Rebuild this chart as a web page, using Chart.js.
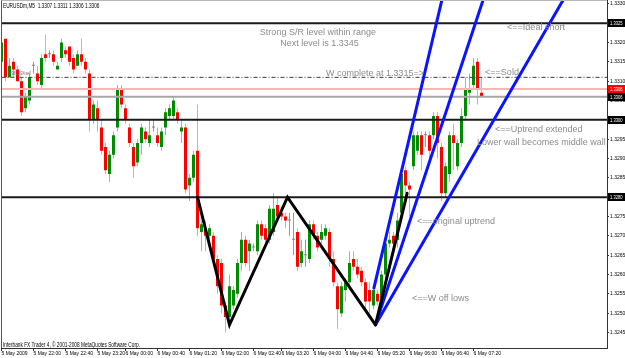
<!DOCTYPE html>
<html>
<head>
<meta charset="utf-8">
<script src="https://cdn.jsdelivr.net/npm/chart.js@4.4.0/dist/chart.umd.min.js"></script>
<style>
  html, body { margin: 0; padding: 0; background: #fff; }
  #wrap { width: 625px; height: 358px; }
</style>
</head>
<body>
<div id="wrap"><canvas id="myChart" width="625" height="358"></canvas></div>
<script>
// EURUSDm M5 bars, 5 May 2009 21:20 -> 6 May 07:20 (index = bar number)
var opens = [1.3315,1.3321,1.3311,1.3315,1.3313,1.3310,1.3303,1.3305,1.3314,1.3312,
  1.3309,1.3317,1.3317,1.3317,1.3313,1.3316,1.3318,1.3319,1.3316,1.3314,
  1.3317,1.3315,1.3312,1.3300,1.3303,1.3298,1.3293,1.3286,1.3291,1.3298,
  1.3308,1.3303,1.3298,1.3293,1.3289,1.3294,1.3297,1.3294,1.3298,1.3296,
  1.3293,1.3298,1.3301,1.3301,1.3302,1.3297,1.3298,1.3283,1.3285,1.3292,
  1.3271,1.3272,1.3270,1.3270,1.3264,1.3263,1.3252,1.3249,1.3252,1.3255,
  1.3263,1.3269,1.3266,1.3267,1.3266,1.3273,1.3272,1.3269,1.3271,1.3278,
  1.3276,1.3275,1.3274,1.3269,1.3271,1.3263,1.3265,1.3264,1.3273,1.3270,
  1.3269,1.3270,1.3271,1.3264,1.3257,1.3250,1.3256,1.3258,1.3264,1.3262,
  1.3261,1.3258,1.3256,1.3252,1.3255,1.3254,1.3260,1.3268,1.3270,1.3269,
  1.3276,1.3287,1.3283,1.3288,1.3292,1.3296,1.3296,1.3296,1.3296,1.3301,
  1.3293,1.3281,1.3286,1.3296,1.3288,1.3294,1.3301,1.3307,1.3309,1.3315,
  1.3307];
var highs = [1.3324,1.3321,1.3316,1.3316,1.3314,1.3311,1.3307,1.3312,1.3315,1.3314,
  1.3317,1.3322,1.3318,1.3318,1.3315,1.3321,1.3319,1.3319,1.3317,1.3318,
  1.3321,1.3316,1.3313,1.3305,1.3305,1.3300,1.3294,1.3292,1.3297,1.3309,
  1.3309,1.3304,1.3299,1.3294,1.3295,1.3299,1.3298,1.3300,1.3300,1.3298,
  1.3298,1.3303,1.3304,1.3306,1.3303,1.3300,1.3299,1.3286,1.3292,1.3304,
  1.3274,1.3274,1.3273,1.3271,1.3265,1.3264,1.3253,1.3260,1.3257,1.3264,
  1.3271,1.3270,1.3269,1.3268,1.3274,1.3274,1.3273,1.3278,1.3281,1.3280,
  1.3277,1.3276,1.3276,1.3276,1.3272,1.3269,1.3269,1.3274,1.3274,1.3271,
  1.3273,1.3273,1.3272,1.3266,1.3258,1.3258,1.3259,1.3266,1.3266,1.3264,
  1.3262,1.3259,1.3258,1.3257,1.3256,1.3261,1.3269,1.3271,1.3271,1.3276,
  1.3287,1.3288,1.3284,1.3297,1.3297,1.3297,1.3297,1.3297,1.3302,1.3302,
  1.3294,1.3289,1.3297,1.3299,1.3295,1.3303,1.3311,1.3312,1.3316,1.3316,
  1.3311];
var lows = [1.3315,1.3310,1.3311,1.3311,1.3310,1.3301,1.3302,1.3304,1.3312,1.3309,
  1.3308,1.3315,1.3316,1.3314,1.3313,1.3315,1.3316,1.3314,1.3312,1.3314,
  1.3314,1.3312,1.3297,1.3299,1.3297,1.3291,1.3286,1.3284,1.3290,1.3297,
  1.3303,1.3299,1.3293,1.3285,1.3288,1.3291,1.3294,1.3293,1.3297,1.3293,
  1.3292,1.3296,1.3300,1.3300,1.3299,1.3294,1.3281,1.3279,1.3284,1.3270,
  1.3266,1.3266,1.3269,1.3263,1.3255,1.3250,1.3245,1.3246,1.3251,1.3254,
  1.3261,1.3262,1.3261,1.3266,1.3265,1.3269,1.3268,1.3268,1.3270,1.3274,
  1.3274,1.3272,1.3270,1.3265,1.3261,1.3262,1.3262,1.3263,1.3269,1.3266,
  1.3268,1.3269,1.3262,1.3257,1.3246,1.3249,1.3253,1.3257,1.3261,1.3259,
  1.3257,1.3251,1.3250,1.3251,1.3252,1.3253,1.3259,1.3267,1.3267,1.3267,
  1.3275,1.3281,1.3275,1.3287,1.3291,1.3287,1.3293,1.3290,1.3295,1.3290,
  1.3279,1.3280,1.3284,1.3287,1.3287,1.3293,1.3300,1.3304,1.3308,1.3304,
  1.3306];
var closes = [1.3320,1.3311,1.3314,1.3313,1.3310,1.3302,1.3306,1.3311,1.3314,1.3310,
  1.3316,1.3316,1.3317,1.3315,1.3314,1.3320,1.3317,1.3315,1.3313,1.3317,
  1.3315,1.3313,1.3300,1.3304,1.3300,1.3292,1.3287,1.3291,1.3296,1.3308,
  1.3304,1.3300,1.3294,1.3288,1.3294,1.3298,1.3295,1.3296,1.3298,1.3294,
  1.3297,1.3302,1.3303,1.3305,1.3300,1.3298,1.3282,1.3285,1.3291,1.3272,
  1.3273,1.3270,1.3272,1.3264,1.3257,1.3252,1.3249,1.3257,1.3256,1.3263,
  1.3269,1.3263,1.3268,1.3267,1.3273,1.3270,1.3269,1.3277,1.3277,1.3275,
  1.3275,1.3274,1.3274,1.3269,1.3262,1.3266,1.3265,1.3273,1.3270,1.3267,
  1.3271,1.3272,1.3264,1.3258,1.3251,1.3257,1.3258,1.3263,1.3262,1.3260,
  1.3258,1.3253,1.3253,1.3256,1.3253,1.3260,1.3268,1.3269,1.3268,1.3274,
  1.3286,1.3283,1.3282,1.3296,1.3296,1.3291,1.3296,1.3292,1.3301,1.3294,
  1.3281,1.3288,1.3296,1.3294,1.3294,1.3301,1.3308,1.3308,1.3314,1.3308,
  1.3306];

// time axis labels and the bars they sit on
var timeLabels = ["5 May 2009","5 May 22:00","5 May 22:40","5 May 23:20","6 May 00:00","6 May 00:40",
  "6 May 01:20","6 May 02:00","6 May 02:40","6 May 03:20","6 May 04:00","6 May 04:40",
  "6 May 05:20","6 May 06:00","6 May 06:40","6 May 07:20"];
var timeBars = [0, 8, 16, 24, 31, 39, 47, 55, 63, 70, 78, 86, 94, 102, 110, 118];
var priceTicks = [1.3245,1.3250,1.3255,1.3260,1.3265,1.3270,1.3275,1.3280,1.3285,
  1.3290,1.3295,1.3300,1.3305,1.3310,1.3315,1.3320,1.3325,1.3330];

// drawn objects: support/resistance levels, order, bid/ask
var srLevels = [1.3325, 1.3300, 1.3280];
var orderLevel = 1.3311;
var askLevel = 1.3308;
var bidLevel = 1.3306;

// W pattern (bar, price)
var wBars = [49, 57, 71.5, 93.5];
var wPrices = [1.3280, 1.3247, 1.3280, 1.3247];
// original uptrend
var upBars = [93.5, 101.4];
var upPrices = [1.3247, 1.3281];
// blue channel lines: start and end anchors
var chanStartBars = [93.1, 93.5, 93.5];
var chanStartPrices = [1.32565, 1.3247, 1.3247];
var chanEndBars = [111.24, 122.0, 143.2];
var chanEndPrices = [1.3336, 1.3336, 1.3336];

var notes = [
  {text: 'Strong S/R level within range', x: 79.1, y: 1.33227, align: 'center'},
  {text: 'Next level is 1.3345', x: 79.5, y: 1.33197, align: 'center'},
  {text: 'W complete at 1.3315=>', x: 81.1, y: 1.33120, align: 'left'},
  {text: '<==Ideal short', x: 126.4, y: 1.33240, align: 'left'},
  {text: '<==Sold', x: 120.9, y: 1.33122, align: 'left'},
  {text: '<==Uptrend extended', x: 123.4, y: 1.32976, align: 'left'},
  {text: 'Lower wall becomes middle wall', x: 118.9, y: 1.32942, align: 'left'},
  {text: '<==original uptrend', x: 103.9, y: 1.32738, align: 'left'},
  {text: '<==W off lows', x: 102.6, y: 1.32539, align: 'left'}
];
var header = 'EURUSDm,M5  1.3307 1.3311 1.3306 1.3306';
var footer = 'Interbank FX Trader 4, \u00a9 2001-2008 MetaQuotes Software Corp.';
var orderLabel = '#9801024 sell';

var xMax = 151.375;
var yMin = 1.32410, yMax = 1.33310;

var bull = '#008a00', bear = '#ff0000', doji = '#808080';
var bodyColors = opens.map(function (o, i) {
  return closes[i] > o ? bull : (closes[i] < o ? bear : doji);
});
var wickColors = opens.map(function (o, i) {
  return closes[i] > o ? '#86c886' : (closes[i] < o ? '#ff9a9a' : '#999999');
});

function hline(v, color, width, dash) {
  return {
    type: 'line', data: [{x: 0, y: v}, {x: xMax, y: v}],
    borderColor: color, borderWidth: width, borderDash: dash || [],
    pointRadius: 0, fill: false, order: 1
  };
}
function seg(xsArr, ysArr, color, width) {
  return {
    type: 'line', data: xsArr.map(function (x, i) { return {x: x, y: ysArr[i]}; }),
    borderColor: color, borderWidth: width, pointRadius: 0, fill: false,
    tension: 0, order: 0, borderCapStyle: 'round', borderJoinStyle: 'miter'
  };
}

var datasets = [
  {
    label: 'wicks',
    data: highs.map(function (h, i) { return {x: i, y: [lows[i], h]}; }),
    backgroundColor: wickColors, barThickness: 1, grouped: false,
    borderWidth: 0, inflateAmount: 0, order: 3
  },
  {
    label: 'bodies',
    data: opens.map(function (o, i) { return {x: i, y: [o, closes[i]]}; }),
    backgroundColor: bodyColors, barThickness: 3, grouped: false, minBarLength: 1,
    borderWidth: 0, inflateAmount: 0, order: 2
  },
  hline(askLevel, '#ffb4b4', 2),
  hline(bidLevel, '#a6a6a6', 2),
  hline(orderLevel, '#3a3a3a', 1, [4, 2, 1, 2])
];
srLevels.forEach(function (v) { datasets.push(hline(v, '#1a1a1a', 2)); });
datasets.push(seg(wBars, wPrices, '#000000', 3));
datasets.push(seg(upBars, upPrices, '#000000', 3));
chanStartBars.forEach(function (b, k) {
  datasets.push(seg([b, chanEndBars[k]], [chanStartPrices[k], chanEndPrices[k]], '#0a14ff', 3));
});

var priceTags = [
  {value: 1.3325, bg: '#000000'},
  {value: askLevel, bg: '#ff0000'},
  {value: bidLevel, bg: '#000000'},
  {value: 1.3300, bg: '#000000'},
  {value: 1.3280, bg: '#000000'}
];

var overlay = {
  id: 'overlay',
  afterDraw: function (chart) {
    var c = chart.ctx, a = chart.chartArea, xs = chart.scales.x, ys = chart.scales.y;
    c.save();
    // frame left and top
    c.fillStyle = '#555';
    c.fillRect(1, a.top, 1, a.bottom - a.top);
    c.fillStyle = '#b8b8b8';
    c.fillRect(a.left, 0, a.right - a.left, 1);

    c.font = '9px "Liberation Sans", Arial, sans-serif';
    c.fillStyle = '#8c8c8c';
    c.textBaseline = 'middle';
    notes.forEach(function (n) {
      c.textAlign = n.align;
      c.fillText(n.text, xs.getPixelForValue(n.x), ys.getPixelForValue(n.y));
    });

    function small(txt, x, y, size, color) {
      c.save();
      c.translate(x, y);
      c.scale(0.68, 1);
      c.font = size + 'px "Liberation Sans", Arial, sans-serif';
      c.fillStyle = color;
      c.textAlign = 'left';
      c.textBaseline = 'middle';
      c.fillText(txt, 0, 0);
      c.restore();
    }
    small(header, 3, 6, 7, '#000');
    small(footer, 3, 345, 7, '#000');
    small(orderLabel, xs.getPixelForValue(2), ys.getPixelForValue(orderLevel) - 4, 5, '#666');

    priceTags.forEach(function (t) {
      var py = Math.round(ys.getPixelForValue(t.value));
      c.fillStyle = t.bg;
      c.fillRect(a.right + 1, py - 4, chart.width - a.right - 1, 8);
      small(t.value.toFixed(4), a.right + 3, py, 6, '#fff');
    });
    c.restore();
  }
};

var ctx = document.getElementById('myChart');
var myChart = new Chart(ctx, {
  type: 'bar',
  data: { datasets: datasets },
  options: {
    responsive: false,
    animation: false,
    devicePixelRatio: 1,
    layout: { autoPadding: false, padding: { left: 1.5, top: 0, right: 0, bottom: 0 } },
    plugins: { legend: { display: false }, tooltip: { enabled: false }, title: { display: false } },
    scales: {
      x: {
        type: 'linear', min: 0, max: xMax, offset: false,
        grid: { offset: false, drawOnChartArea: false, drawTicks: true, tickLength: 3, color: '#333' },
        border: { color: '#333', width: 1 },
        afterBuildTicks: function (s) { s.ticks = timeBars.map(function (v) { return {value: v}; }); },
        afterFit: function (s) { s.height = 10; s.paddingLeft = 0; s.paddingRight = 0; },
        ticks: {
          autoSkip: false, maxRotation: 0, minRotation: 0, align: 'start', padding: 0,
          color: '#000',
          font: { family: '"Liberation Sans", Arial', size: 5 },
          callback: function (v, i) { return timeLabels[i]; }
        }
      },
      y: {
        type: 'linear', position: 'right', min: yMin, max: yMax, beginAtZero: false,
        grid: { drawOnChartArea: false, drawTicks: true, tickLength: 2, color: '#333' },
        border: { color: '#333', width: 1 },
        afterBuildTicks: function (s) { s.ticks = priceTicks.map(function (v) { return {value: v}; }); },
        afterFit: function (s) { s.width = 18; s.paddingTop = 0; s.paddingBottom = 0; },
        ticks: {
          autoSkip: false, padding: 1, color: '#000',
          font: { family: '"Liberation Sans", Arial', size: 5 },
          callback: function (v) { return v.toFixed(4); }
        }
      }
    }
  },
  plugins: [overlay]
});
</script>
</body>
</html>
